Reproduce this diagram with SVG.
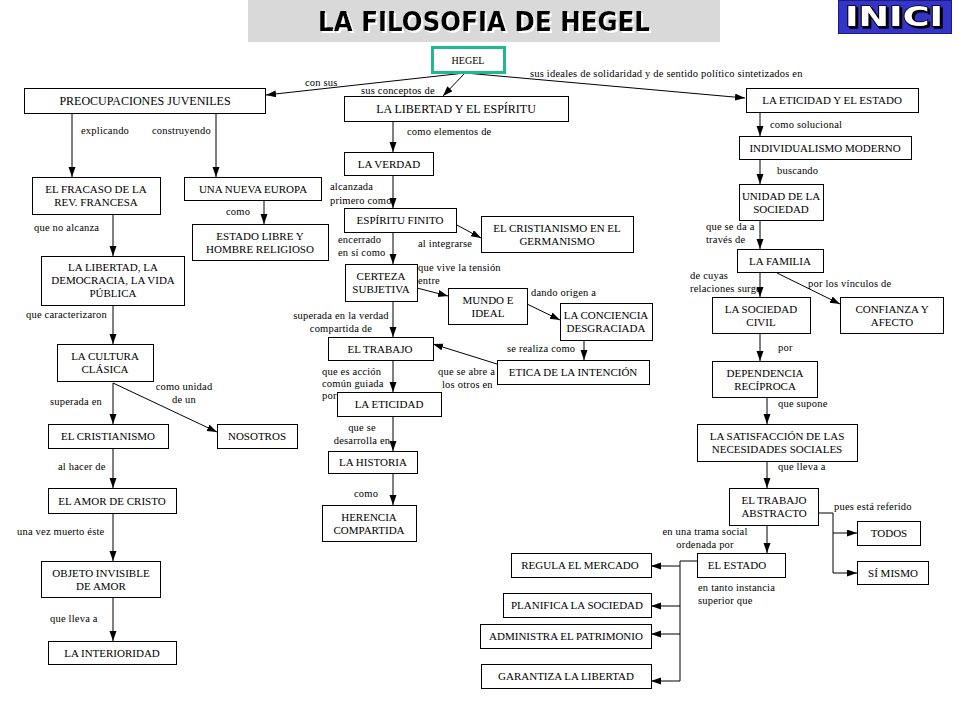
<svg xmlns="http://www.w3.org/2000/svg" width="960" height="720" viewBox="0 0 960 720">
<defs>
<marker id="ah" markerUnits="userSpaceOnUse" markerWidth="11" markerHeight="8" refX="10" refY="3.5" orient="auto">
<path d="M0,0 L10,3.5 L0,7 z" fill="#000"/>
</marker>
<filter id="sh" x="-10%" y="-20%" width="120%" height="150%">
<feDropShadow dx="2" dy="2" stdDeviation="0.6" flood-color="#ffffff" flood-opacity="1"/>
</filter>
<filter id="sh2" x="-10%" y="-20%" width="130%" height="150%">
<feDropShadow dx="2" dy="2" stdDeviation="0.3" flood-color="#000000" flood-opacity="1"/>
</filter>
<style>
.n rect{fill:#fff;stroke:#000;stroke-width:1}
.n text{font-size:11px;text-anchor:middle;fill:#000}
.n text.big{font-size:12px}
.c{fill:none;stroke:#000;stroke-width:1}
.a{marker-end:url(#ah)}
.l{font-size:10.5px;letter-spacing:0.2px;fill:#000}
.m{text-anchor:middle}
</style>
</defs>
<rect width="960" height="720" fill="#fff"/>

<g id="title">
<rect x="248" y="0" width="472" height="42" fill="#d9d9d9"/>
<text x="484" y="31" font-family="DejaVu Sans,Verdana,sans-serif" font-weight="bold" font-size="26" text-anchor="middle" fill="#000" textLength="332" lengthAdjust="spacingAndGlyphs" filter="url(#sh)">LA FILOSOFIA DE HEGEL</text>
</g>

<g id="inici">
<rect x="838.5" y="0.5" width="113" height="33" fill="#3434c8" stroke="#1c1c80" stroke-width="1"/>
<text x="894" y="26" font-family="DejaVu Sans,Verdana,sans-serif" font-weight="bold" font-size="26" text-anchor="middle" fill="#fff" stroke="#000" stroke-width="1.5" paint-order="stroke" textLength="98" lengthAdjust="spacingAndGlyphs" filter="url(#sh2)">INICI</text>
</g>

<g id="connectors" font-family="Liberation Serif,Times New Roman,serif">
<path class="c a" d="M465,73 L266,95"/>
<text class="l" x="305" y="86">con sus</text>
<path class="c a" d="M465,73 L443,96"/>
<text class="l" x="361" y="94">sus conceptos de</text>
<path class="c a" d="M465,73 L745,98"/>
<text class="l" x="530" y="77">sus ideales de solidaridad y de sentido político sintetizados en</text>

<path class="c a" d="M72,113 V177"/>
<text class="l" x="81" y="134">explicando</text>
<path class="c a" d="M216,113 V177"/>
<text class="l" x="152" y="134">construyendo</text>
<path class="c a" d="M264,200 V224"/>
<text class="l" x="226" y="215">como</text>
<path class="c a" d="M113,214 V256"/>
<text class="l" x="34" y="231">que no alcanza</text>
<path class="c a" d="M113,305 V344"/>
<text class="l" x="26" y="318">que caracterizaron</text>
<path class="c a" d="M113,383 V424"/>
<text class="l" x="50" y="405">superada en</text>
<path class="c a" d="M113,383 L217,432"/>
<text class="l m" x="184" y="390">como unidad</text>
<text class="l m" x="184" y="403">de un</text>
<path class="c a" d="M113,448 V488"/>
<text class="l" x="58" y="470">al hacer de</text>
<path class="c a" d="M113,513 V561"/>
<text class="l" x="17" y="535">una vez muerto éste</text>
<path class="c a" d="M113,597 V641"/>
<text class="l" x="50" y="622">que lleva a</text>

<path class="c a" d="M393,121 V152"/>
<text class="l" x="407" y="135">como elementos de</text>
<path class="c a" d="M393,175 V208"/>
<text class="l" x="330" y="190">alcanzada</text>
<text class="l" x="330" y="204">primero como</text>
<path class="c a" d="M455,224 L481,238"/>
<text class="l" x="418" y="247">al integrarse</text>
<path class="c a" d="M393,232 V264"/>
<text class="l" x="338" y="243">encerrado</text>
<text class="l" x="338" y="256">en sí como</text>
<path class="c a" d="M417,288 L448,296"/>
<text class="l" x="418" y="271">que vive la tensión</text>
<text class="l" x="418" y="284">entre</text>
<path class="c a" d="M527,304 L560,320"/>
<text class="l" x="531" y="296">dando origen a</text>
<path class="c a" d="M584,340 V360"/>
<text class="l" x="507" y="352">se realiza como</text>
<path class="c a" d="M497,364 L433,344"/>
<text class="l" x="438" y="375">que se abre a</text>
<text class="l" x="442" y="388">los otros en</text>
<path class="c a" d="M393,301 V337"/>
<text class="l m" x="341" y="319">superada en la verdad</text>
<text class="l m" x="341" y="332">compartida de</text>
<path class="c a" d="M393,360 V392"/>
<text class="l" x="322" y="375">que es acción</text>
<text class="l" x="322" y="387">común guiada</text>
<text class="l" x="322" y="399">por</text>
<path class="c a" d="M393,416 V451"/>
<text class="l m" x="362" y="431">que se</text>
<text class="l m" x="362" y="444">desarrolla en</text>
<path class="c a" d="M393,473 V505"/>
<text class="l" x="354" y="497">como</text>

<path class="c a" d="M760,112 V136"/>
<text class="l" x="770" y="128">como solucional</text>
<path class="c a" d="M760,159 V184"/>
<text class="l" x="777" y="174">buscando</text>
<path class="c a" d="M760,220 V249"/>
<text class="l" x="706" y="230">que se da a</text>
<text class="l" x="706" y="243">través de</text>
<path class="c a" d="M760,272 V297"/>
<text class="l" x="690" y="279">de cuyas</text>
<text class="l" x="690" y="292">relaciones surge</text>
<path class="c a" d="M777,273 L840,304"/>
<text class="l" x="808" y="287">por los vínculos de</text>
<path class="c a" d="M760,333 V361"/>
<text class="l" x="778" y="351">por</text>
<path class="c a" d="M767,397 V424"/>
<text class="l" x="778" y="407">que supone</text>
<path class="c a" d="M767,461 V488"/>
<text class="l" x="778" y="470">que lleva a</text>
<path class="c a" d="M818,513 H833 V533 H857"/>
<path class="c a" d="M833,533 V573 H857"/>
<text class="l" x="834" y="510">pues está referido</text>
<path class="c a" d="M767,525 V553"/>
<text class="l m" x="705" y="535">en una trama social</text>
<text class="l m" x="705" y="548">ordenada por</text>
<path class="c" d="M697,561 H680 V681"/>
<path class="c a" d="M680,566 H651"/>
<path class="c a" d="M680,606 H651"/>
<path class="c a" d="M680,634 H651"/>
<path class="c a" d="M680,681 H651"/>
<text class="l" x="698" y="591">en tanto instancia</text>
<text class="l" x="698" y="604">superior que</text>
</g>

<g id="nodes" font-family="Liberation Serif,Times New Roman,serif">
<g id="hegel" class="n"><rect x="432.5" y="47.5" width="72" height="25" style="stroke:#1fb98c;stroke-width:3"/><text x="468" y="64" style="font-size:10px">HEGEL</text></g>
<g id="preocupaciones" class="n"><rect x="24.5" y="88.5" width="241" height="25"/><text class="big" x="145" y="105">PREOCUPACIONES JUVENILES</text></g>
<g id="libertad-espiritu" class="n"><rect x="344.5" y="96.5" width="224" height="25"/><text class="big" x="456" y="113">LA LIBERTAD Y EL ESPÍRITU</text></g>
<g id="eticidad-estado" class="n"><rect x="746.5" y="88.5" width="172" height="24"/><text x="832" y="104">LA ETICIDAD Y EL ESTADO</text></g>

<g id="fracaso" class="n"><rect x="32.5" y="177.5" width="128" height="37"/><text x="96" y="193">EL FRACASO DE LA</text><text x="96" y="206">REV. FRANCESA</text></g>
<g id="nueva-europa" class="n"><rect x="184.5" y="177.5" width="137" height="23"/><text x="253" y="193">UNA NUEVA EUROPA</text></g>
<g id="estado-libre" class="n"><rect x="192.5" y="224.5" width="136" height="36"/><text x="260" y="240">ESTADO LIBRE Y</text><text x="260" y="253">HOMBRE RELIGIOSO</text></g>
<g id="libertad-democracia" class="n"><rect x="41.5" y="256.5" width="143" height="49"/><text x="113" y="271">LA LIBERTAD, LA</text><text x="113" y="284">DEMOCRACIA, LA VIDA</text><text x="113" y="297">PÚBLICA</text></g>
<g id="cultura" class="n"><rect x="57.5" y="344.5" width="96" height="37"/><text x="105" y="360">LA CULTURA</text><text x="105" y="373">CLÁSICA</text></g>
<g id="cristianismo" class="n"><rect x="48.5" y="424.5" width="120" height="24"/><text x="108" y="440">EL CRISTIANISMO</text></g>
<g id="nosotros" class="n"><rect x="217.5" y="424.5" width="80" height="24"/><text x="257" y="440">NOSOTROS</text></g>
<g id="amor-cristo" class="n"><rect x="48.5" y="488.5" width="128" height="25"/><text x="112" y="505">EL AMOR DE CRISTO</text></g>
<g id="objeto" class="n"><rect x="41.5" y="561.5" width="119" height="36"/><text x="101" y="577">OBJETO INVISIBLE</text><text x="101" y="590">DE AMOR</text></g>
<g id="interioridad" class="n"><rect x="48.5" y="641.5" width="128" height="23"/><text x="112" y="657">LA INTERIORIDAD</text></g>

<g id="verdad" class="n"><rect x="344.5" y="152.5" width="89" height="23"/><text x="389" y="168">LA VERDAD</text></g>
<g id="espiritu-finito" class="n"><rect x="344.5" y="208.5" width="112" height="24"/><text x="400" y="224">ESPÍRITU FINITO</text></g>
<g id="cristianismo-germanismo" class="n"><rect x="481.5" y="216.5" width="152" height="36"/><text x="557" y="232">EL CRISTIANISMO EN EL</text><text x="557" y="245">GERMANISMO</text></g>
<g id="certeza" class="n"><rect x="345.5" y="264.5" width="72" height="37"/><text x="381" y="280">CERTEZA</text><text x="381" y="293">SUBJETIVA</text></g>
<g id="mundo" class="n"><rect x="448.5" y="288.5" width="79" height="36"/><text x="488" y="304">MUNDO E</text><text x="488" y="317">IDEAL</text></g>
<g id="conciencia" class="n"><rect x="560.5" y="303.5" width="92" height="37"/><text x="606" y="319">LA CONCIENCIA</text><text x="606" y="332">DESGRACIADA</text></g>
<g id="etica" class="n"><rect x="497.5" y="360.5" width="152" height="24"/><text x="573" y="376">ETICA DE LA INTENCIÓN</text></g>
<g id="trabajo" class="n"><rect x="328.5" y="337.5" width="105" height="23"/><text x="380" y="353">EL TRABAJO</text></g>
<g id="eticidad" class="n"><rect x="337.5" y="392.5" width="104" height="24"/><text x="389" y="408">LA ETICIDAD</text></g>
<g id="historia" class="n"><rect x="328.5" y="451.5" width="89" height="22"/><text x="373" y="466">LA HISTORIA</text></g>
<g id="herencia" class="n"><rect x="322.5" y="505.5" width="94" height="36"/><text x="369" y="521">HERENCIA</text><text x="369" y="534">COMPARTIDA</text></g>

<g id="individualismo" class="n"><rect x="739.5" y="136.5" width="172" height="23"/><text x="825" y="152">INDIVIDUALISMO MODERNO</text></g>
<g id="unidad" class="n"><rect x="739.5" y="184.5" width="84" height="36"/><text x="781" y="200">UNIDAD DE LA</text><text x="781" y="213">SOCIEDAD</text></g>
<g id="familia" class="n"><rect x="737.5" y="249.5" width="86" height="23"/><text x="780" y="265">LA FAMILIA</text></g>
<g id="sociedad-civil" class="n"><rect x="712.5" y="297.5" width="98" height="36"/><text x="761" y="313">LA SOCIEDAD</text><text x="761" y="326">CIVIL</text></g>
<g id="confianza" class="n"><rect x="840.5" y="297.5" width="103" height="36"/><text x="892" y="313">CONFIANZA Y</text><text x="892" y="326">AFECTO</text></g>
<g id="dependencia" class="n"><rect x="712.5" y="361.5" width="105" height="36"/><text x="765" y="377">DEPENDENCIA</text><text x="765" y="390">RECÍPROCA</text></g>
<g id="satisfaccion" class="n"><rect x="697.5" y="424.5" width="160" height="37"/><text x="777" y="440">LA SATISFACCIÓN DE LAS</text><text x="777" y="453">NECESIDADES SOCIALES</text></g>
<g id="trabajo-abstracto" class="n"><rect x="729.5" y="488.5" width="89" height="37"/><text x="774" y="504">EL TRABAJO</text><text x="774" y="517">ABSTRACTO</text></g>
<g id="todos" class="n"><rect x="857.5" y="521.5" width="63" height="24"/><text x="889" y="537">TODOS</text></g>
<g id="si-mismo" class="n"><rect x="857.5" y="561.5" width="71" height="23"/><text x="893" y="577">SÍ MISMO</text></g>
<g id="el-estado" class="n"><rect x="697.5" y="553.5" width="88" height="24"/><text x="737" y="569">EL ESTADO</text></g>
<g id="regula" class="n"><rect x="511.5" y="553.5" width="140" height="24"/><text x="580" y="569">REGULA EL MERCADO</text></g>
<g id="planifica" class="n"><rect x="503.5" y="593.5" width="148" height="24"/><text x="577" y="609">PLANIFICA LA SOCIEDAD</text></g>
<g id="administra" class="n"><rect x="480.5" y="624.5" width="171" height="24"/><text x="566" y="640">ADMINISTRA EL PATRIMONIO</text></g>
<g id="garantiza" class="n"><rect x="481.5" y="664.5" width="170" height="24"/><text x="566" y="680">GARANTIZA LA LIBERTAD</text></g>
</g>
</svg>
